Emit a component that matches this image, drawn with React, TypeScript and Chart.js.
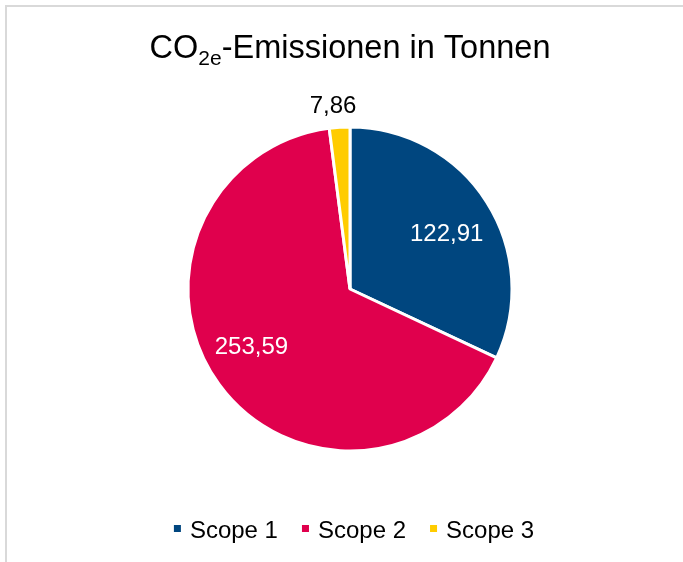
import React, { useEffect, useRef } from "react";
import { Chart, registerables } from "chart.js";

Chart.register(...registerables);

const categories = ["Scope 1", "Scope 2", "Scope 3"];
const emissions = [122.91, 253.59, 7.86];
const sliceColors = ["#00467F", "#E0004D", "#FFCC00"];
const titleMain = "CO";
const titleSub = "2e";
const titleRest = "-Emissionen in Tonnen";

const FONT = "'Liberation Sans', Arial, Helvetica, sans-serif";
const TITLE_SIZE = 32.5;
const SUB_SIZE = 21;
const LABEL_SIZE = 24;
const LEGEND_SIZE = 24;
// small best-fit nudges for label placement (pixels)
const LABEL_NUDGE: [number, number][] = [[1, 4], [-7, -10], [-5, 1]];

const fmt = (v: number) => v.toFixed(2).replace(".", ",");

const overlayPlugin = {
  id: "overlay",
  afterDraw(chart: any) {
    const ctx: CanvasRenderingContext2D = chart.ctx;
    const w = chart.width;
    const cx = w / 2;
    ctx.save();

    // Title with subscript
    const titleY = 53;
    ctx.textBaseline = "alphabetic";
    ctx.fillStyle = "#000000";
    ctx.font = `${TITLE_SIZE}px ${FONT}`;
    const wMain = ctx.measureText(titleMain).width;
    const wRest = ctx.measureText(titleRest).width;
    ctx.font = `${SUB_SIZE}px ${FONT}`;
    const wSub = ctx.measureText(titleSub).width;
    let x = cx - (wMain + wSub + wRest) / 2;
    ctx.textAlign = "left";
    ctx.font = `${TITLE_SIZE}px ${FONT}`;
    ctx.fillText(titleMain, x, titleY);
    x += wMain;
    ctx.font = `${SUB_SIZE}px ${FONT}`;
    ctx.fillText(titleSub, x, titleY + 7);
    x += wSub;
    ctx.font = `${TITLE_SIZE}px ${FONT}`;
    ctx.fillText(titleRest, x, titleY);

    // Data labels
    const meta = chart.getDatasetMeta(0);
    const total = emissions.reduce((a, b) => a + b, 0);
    ctx.font = `${LABEL_SIZE}px ${FONT}`;
    ctx.textAlign = "center";
    meta.data.forEach((arc: any, i: number) => {
      const p = arc.getProps(["x", "y", "startAngle", "endAngle", "outerRadius"], true);
      const mid = (p.startAngle + p.endAngle) / 2;
      const frac = emissions[i] / total;
      const outside = frac < 0.05;
      const dist = outside ? p.outerRadius + 24 : p.outerRadius * 0.7;
      const nudge = LABEL_NUDGE[i] || [0, 0];
      const lx = p.x + Math.cos(mid) * dist + nudge[0];
      const ly = p.y + Math.sin(mid) * dist + nudge[1];
      ctx.fillStyle = outside ? "#000000" : "#FFFFFF";
      ctx.fillText(fmt(emissions[i]), lx, ly + LABEL_SIZE * 0.358);
    });

    // Legend
    const box = 7;
    const gapBoxText = 9;
    const gapItems = 24;
    ctx.font = `${LEGEND_SIZE}px ${FONT}`;
    ctx.textAlign = "left";
    const widths = categories.map((c) => box + gapBoxText + ctx.measureText(c).width);
    const totalW = widths.reduce((a, b) => a + b, 0) + gapItems * (categories.length - 1);
    let lx = cx - totalW / 2 + 4;
    const legendBase = 533;
    categories.forEach((c, i) => {
      ctx.fillStyle = sliceColors[i];
      ctx.fillRect(lx, legendBase - 13, box, box);
      ctx.fillStyle = "#000000";
      ctx.fillText(c, lx + box + gapBoxText, legendBase);
      lx += widths[i] + gapItems;
    });

    ctx.restore();
  },
};

export default function App() {
  const ref = useRef<HTMLCanvasElement | null>(null);

  useEffect(() => {
    if (!ref.current) return;
    const chart = new Chart(ref.current, {
      type: "pie",
      data: {
        labels: categories,
        datasets: [
          {
            data: emissions,
            backgroundColor: sliceColors,
            borderColor: "#FFFFFF",
            borderWidth: 3,
            radius: 162,
          } as any,
        ],
      },
      options: {
        responsive: false,
        animation: false,
        layout: { padding: { top: 120, bottom: 109, left: 0, right: 0 } },
        plugins: {
          legend: { display: false },
          title: { display: false },
          tooltip: { enabled: false },
        },
        events: [],
      },
      plugins: [overlayPlugin],
    });
    return () => chart.destroy();
  }, []);

  return (
    <div
      style={{
        position: "fixed",
        left: 0,
        top: 0,
        width: 683,
        height: 562,
        overflow: "hidden",
        background: "#ffffff",
      }}
    >
      <div
        style={{
          position: "absolute",
          left: 5,
          top: 5,
          width: 800,
          height: 700,
          borderLeft: "2px solid #d9d9d9",
          borderTop: "2px solid #d9d9d9",
        }}
      />
      <canvas
        ref={ref}
        width={690}
        height={557}
        style={{ position: "absolute", left: 5, top: 5, width: 690, height: 557 }}
      />
    </div>
  );
}
